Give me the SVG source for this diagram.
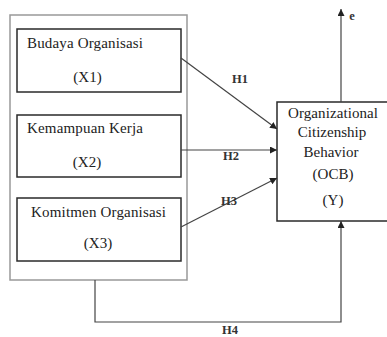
<svg xmlns="http://www.w3.org/2000/svg" width="387" height="337" viewBox="0 0 387 337">
<defs>
<marker id="ah" viewBox="0 0 10 10" refX="10" refY="5" markerWidth="7" markerHeight="7" markerUnits="userSpaceOnUse" orient="auto">
<path d="M0,0 L10,5 L0,10 z" fill="#222"/>
</marker>
</defs>
<style>
text{font-family:'Liberation Serif','DejaVu Serif',serif}
.t{font-size:15px;fill:#222}
.h{font-size:12.5px;font-weight:bold;fill:#333}
.box{fill:#fff;stroke:#2a2a2a;stroke-width:1.5}
.outer{fill:#fff;stroke:#999;stroke-width:1.5}
.c{fill:none;stroke:#444;stroke-width:1.2}
</style>
<rect width="387" height="337" fill="#fff"/>
<g id="group-X">
<rect class="outer" x="10" y="15" width="177" height="265"/>
</g>
<g id="X1">
<rect class="box" x="17" y="29" width="164" height="63"/>
<text class="t" x="27" y="48" textLength="116">Budaya Organisasi</text>
<text class="t" x="87.5" y="82" text-anchor="middle">(X1)</text>
</g>
<g id="X2">
<rect class="box" x="17" y="115" width="164" height="62"/>
<text class="t" x="27" y="133" textLength="116">Kemampuan Kerja</text>
<text class="t" x="87" y="167" text-anchor="middle">(X2)</text>
</g>
<g id="X3">
<rect class="box" x="17" y="198" width="164" height="63"/>
<text class="t" x="31" y="217" textLength="135">Komitmen Organisasi</text>
<text class="t" x="98" y="248" text-anchor="middle">(X3)</text>
</g>
<g id="Y">
<rect class="box" x="277" y="102" width="115" height="119"/>
<text class="t" x="333" y="118" text-anchor="middle" textLength="90">Organizational</text>
<text class="t" x="332" y="137" text-anchor="middle">Citizenship</text>
<text class="t" x="331" y="157" text-anchor="middle">Behavior</text>
<text class="t" x="333" y="179" text-anchor="middle">(OCB)</text>
<text class="t" x="333" y="205" text-anchor="middle">(Y)</text>
</g>
<g id="connectors">
<line class="c" x1="181" y1="58" x2="277" y2="129" marker-end="url(#ah)"/>
<line class="c" x1="181" y1="150" x2="277" y2="150" marker-end="url(#ah)"/>
<line class="c" x1="181" y1="227" x2="277" y2="178" marker-end="url(#ah)"/>
<polyline class="c" points="95,280 95,322 341,322 341,221" marker-end="url(#ah)"/>
<line class="c" x1="341" y1="102" x2="341" y2="9" marker-end="url(#ah)"/>
<text class="h" x="240" y="83" text-anchor="middle">H1</text>
<text class="h" x="231" y="160" text-anchor="middle">H2</text>
<text class="h" x="229" y="205" text-anchor="middle">H3</text>
<text class="h" x="230" y="334" text-anchor="middle">H4</text>
<text class="h" x="352" y="20" text-anchor="middle" font-size="11">e</text>
</g>
</svg>
